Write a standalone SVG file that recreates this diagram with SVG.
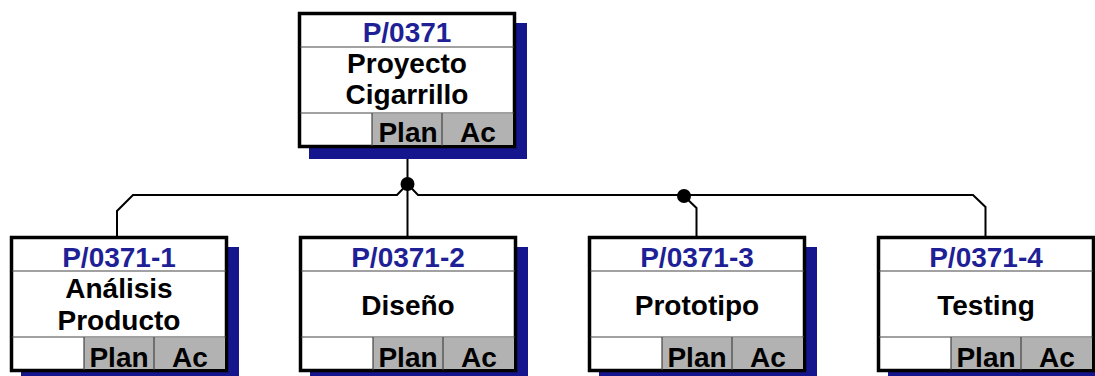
<svg xmlns="http://www.w3.org/2000/svg" width="1095" height="376" viewBox="0 0 1095 376">
<style>
.sh{fill:#15158e}
.bx{fill:#fff;stroke:#000;stroke-width:3.5}
.gc{fill:#b2b2b2}
.dv{stroke:#444;stroke-width:1.2;fill:none}
text{font-family:"Liberation Sans",Arial,sans-serif;font-weight:bold;font-size:28px;text-anchor:middle}
.id{fill:#1f1f96}
.t{fill:#000}
.cn{stroke:#000;stroke-width:2;fill:none}
</style>
<g id="connectors">
<path class="cn" d="M407.5,148 V236"/>
<path class="cn" d="M117,236 V211 L133,195 H397 L407.5,184 L418,195 H973 L985.5,207 V236"/>
<path class="cn" d="M684,196 L696.5,208 V236"/>
<circle cx="407.5" cy="184" r="7" fill="#000"/>
<circle cx="684" cy="196" r="7" fill="#000"/>
</g>
<g id="node-p0371">
<rect class="sh" x="309" y="23" width="218" height="136"/>
<rect class="bx" x="299.5" y="13.5" width="215" height="133"/>
<rect class="gc" x="372" y="114" width="141" height="31"/>
<path class="dv" d="M300,47 H514 M300,113 H514 M372,113 V146 M442,113 V146"/>
<text class="id" x="407" y="42">P/0371</text>
<text class="t" x="407" y="73">Proyecto</text>
<text class="t" x="407" y="104">Cigarrillo</text>
<text class="t" x="408" y="142">Plan</text>
<text class="t" x="478" y="142">Ac</text>
</g>
<g id="node-p0371-1">
<rect class="sh" x="21" y="247" width="218" height="136"/>
<rect class="bx" x="11.5" y="237.5" width="215" height="133"/>
<rect class="gc" x="84" y="338" width="141" height="31"/>
<path class="dv" d="M12,271 H226 M12,337 H226 M84,337 V370 M154,337 V370"/>
<text class="id" x="119" y="267">P/0371-1</text>
<text class="t" x="119" y="298">Análisis</text>
<text class="t" x="119" y="330">Producto</text>
<text class="t" x="119" y="367">Plan</text>
<text class="t" x="190" y="367">Ac</text>
</g>
<g id="node-p0371-2">
<rect class="sh" x="310" y="247" width="218" height="136"/>
<rect class="bx" x="300.5" y="237.5" width="215" height="133"/>
<rect class="gc" x="373" y="338" width="141" height="31"/>
<path class="dv" d="M301,271 H515 M301,337 H515 M373,337 V370 M443,337 V370"/>
<text class="id" x="408" y="267">P/0371-2</text>
<text class="t" x="408" y="315">Diseño</text>
<text class="t" x="408" y="367">Plan</text>
<text class="t" x="479" y="367">Ac</text>
</g>
<g id="node-p0371-3">
<rect class="sh" x="599" y="247" width="218" height="136"/>
<rect class="bx" x="589.5" y="237.5" width="215" height="133"/>
<rect class="gc" x="662" y="338" width="141" height="31"/>
<path class="dv" d="M590,271 H804 M590,337 H804 M662,337 V370 M732,337 V370"/>
<text class="id" x="697" y="267">P/0371-3</text>
<text class="t" x="697" y="315">Prototipo</text>
<text class="t" x="697" y="367">Plan</text>
<text class="t" x="768" y="367">Ac</text>
</g>
<g id="node-p0371-4">
<rect class="sh" x="888" y="247" width="218" height="136"/>
<rect class="bx" x="878.5" y="237.5" width="215" height="133"/>
<rect class="gc" x="951" y="338" width="141" height="31"/>
<path class="dv" d="M879,271 H1093 M879,337 H1093 M951,337 V370 M1021,337 V370"/>
<text class="id" x="986" y="267">P/0371-4</text>
<text class="t" x="986" y="315">Testing</text>
<text class="t" x="986" y="367">Plan</text>
<text class="t" x="1057" y="367">Ac</text>
</g>
</svg>
